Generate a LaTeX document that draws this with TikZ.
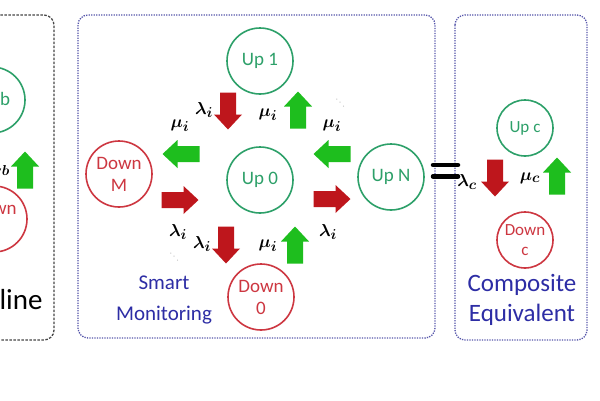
\documentclass[tikz,border=0pt]{standalone}
\usepackage{fontspec}
\setmainfont{Carlito}
\definecolor{upgreen}{RGB}{45,160,105}
\definecolor{dnred}{RGB}{205,55,65}
\definecolor{arrred}{RGB}{190,22,28}
\definecolor{arrgreen}{RGB}{30,190,30}
\definecolor{boxblue}{RGB}{85,85,170}
\definecolor{txtblue}{RGB}{45,45,165}
\definecolor{boxgray}{RGB}{70,70,70}
\tikzset{
  upst/.style={circle, draw=upgreen, text=upgreen, fill=white, line width=1.6pt,
    minimum size=66pt, inner sep=0pt, align=center, font=\fontsize{19}{22}\selectfont},
  dnst/.style={upst, draw=dnred, text=dnred},
  smallc/.style={minimum size=56pt, font=\fontsize{17}{20}\selectfont},
  lab/.style={inner sep=0pt, font=\fontsize{19}{20}\selectfont\boldmath},
  dotsst/.style={inner sep=0pt, text=gray!55, font=\fontsize{11}{11}\selectfont, rotate=-45},
  bluebox/.style={draw=boxblue, line width=1.3pt, dash pattern=on 1.3pt off 1.2pt, rounded corners=10pt},
  graybox/.style={draw=boxgray, line width=1.3pt, dash pattern=on 2.5pt off 1.5pt, rounded corners=10pt},
  bigtxt/.style={align=center, text=txtblue, font=\fontsize{21}{31}\selectfont},
  redarr/.style={fill=arrred},
  greenarr/.style={fill=arrgreen},
  eqbar/.style={line width=4.5pt, line cap=round, black},
  varr/.pic={\fill[pic actions] (-8,-18.5) -- (8,-18.5) -- (8,3.5) -- (14,3.5) -- (0,18.5) -- (-14,3.5) -- (-8,3.5) -- cycle;},
  harr/.pic={\fill[pic actions] (-18.5,-8) -- (3.5,-8) -- (3.5,-14) -- (18.5,0) -- (3.5,14) -- (3.5,8) -- (-18.5,8) -- cycle;}
}
\begin{document}
\begin{tikzpicture}[x=1pt,y=-1pt]
\useasboundingbox (0,0) rectangle (600,400);
\fill[white] (0,0) rectangle (600,400);
% boxes
\draw[graybox] (-40,15) rectangle (54,340);
\draw[bluebox] (78,15) rectangle (435,338);
\draw[bluebox] (455,15) rectangle (587,340);
% left (cut-off) panel
\node[upst] (upb) at (-8,100) {Up b};
\node[dnst] (downb) at (-6,219) {Down\\b};
\node[lab, anchor=east] (mub) at (10,170) {$\mu_b$};
\pic[greenarr, yscale=-1] at (25,170) {varr};
\node[anchor=east, text=black, font=\fontsize{29}{32}\selectfont] (basel) at (46,300) {Baseline};
% middle panel
\node[upst] (up1) at (260,61) {Up 1};
\node[upst] (up0) at (260,180) {Up 0};
\node[dnst] (downm) at (119,174) {Down\\M};
\node[upst] (upn) at (391,177) {Up N};
\node[dnst] (down0) at (261,297) {Down\\0};
\pic[redarr] at (228,111) {varr};
\pic[greenarr, yscale=-1] at (298,110) {varr};
\pic[greenarr, xscale=-1] at (181,154) {harr};
\pic[greenarr, xscale=-1] at (332,154) {harr};
\pic[redarr] at (180,200) {harr};
\pic[redarr] at (332,199) {harr};
\pic[redarr] at (226,245) {varr};
\pic[greenarr, yscale=-1] at (295,245) {varr};
\node[lab] (l1) at (204,110) {$\lambda_i$};
\node[lab] (m1) at (180,126) {$\mu_i$};
\node[lab] (m2) at (268,115) {$\mu_i$};
\node[lab] (m3) at (332,126) {$\mu_i$};
\node[dotsst] (d1) at (340,103) {$\cdots$};
\node[lab] (l2) at (178,232) {$\lambda_i$};
\node[lab] (l3) at (202,244) {$\lambda_i$};
\node[dotsst] (d2) at (174,257) {$\cdots$};
\node[lab] (m4) at (268,246) {$\mu_i$};
\node[lab] (l4) at (328,232) {$\lambda_i$};
\node[bigtxt] (sm) at (164,300) {Smart\\Monitoring};
% equals sign
\draw[eqbar] (433,165) -- (458,165);
\draw[eqbar] (433,176.5) -- (458,176.5);
% right panel
\node[upst, smallc] (upc) at (525,128) {Up c};
\node[dnst, smallc] (downc) at (525,240) {Down\\c};
\pic[redarr] at (495,178) {varr};
\pic[greenarr, yscale=-1] at (557,176) {varr};
\node[lab] (lc) at (467,182) {$\lambda_c$};
\node[lab] (mc) at (530,178) {$\mu_c$};
\node[bigtxt, font=\fontsize{25}{30}\selectfont] (ce) at (522,300) {Composite\\Equivalent};
\end{tikzpicture}
\end{document}
